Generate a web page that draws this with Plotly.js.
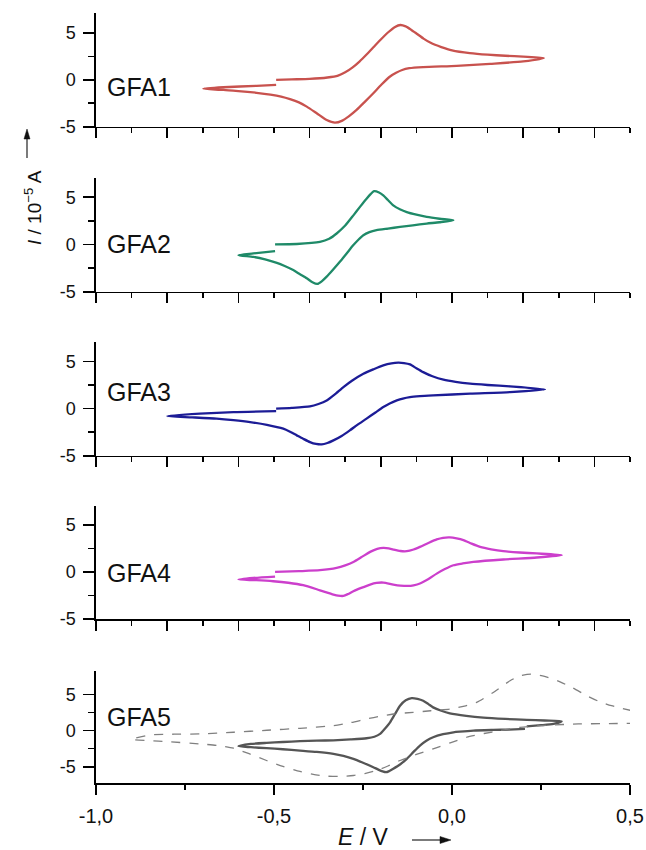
<!DOCTYPE html>
<html>
<head>
<meta charset="utf-8">
<script src="https://cdn.plot.ly/plotly-3.0.1.min.js"></script>
<style>html,body{margin:0;padding:0;background:#fff;}#plot{width:646px;height:850px;}</style>
</head>
<body>
<div id="plot"></div>
<script>
// ---- Data (E in V, I in 10^-5 A) ----
const labels = ["GFA1", "GFA2", "GFA3", "GFA4", "GFA5"];

const E1 = [-0.494,-0.45,-0.40,-0.35,-0.32,-0.30,-0.28,-0.26,-0.24,-0.22,-0.20,-0.18,-0.16,-0.145,-0.13,-0.115,-0.10,-0.08,-0.06,-0.03,0.0,0.05,0.10,0.15,0.20,0.258,0.20,0.107,0.013,-0.081,-0.12,-0.14,-0.157,-0.174,-0.198,-0.221,-0.245,-0.268,-0.29,-0.308,-0.329,-0.352,-0.380,-0.408,-0.43,-0.455,-0.48,-0.51,-0.549,-0.60,-0.642,-0.699,-0.642,-0.549,-0.494];
const I1 = [0,0.05,0.10,0.25,0.45,0.8,1.3,1.95,2.7,3.5,4.3,5.05,5.65,5.85,5.7,5.35,4.95,4.4,3.95,3.5,3.15,2.85,2.68,2.57,2.47,2.32,1.96,1.71,1.5,1.36,1.24,1.05,0.75,0.36,-0.5,-1.43,-2.35,-3.21,-3.9,-4.35,-4.57,-4.29,-3.57,-2.86,-2.4,-2.05,-1.78,-1.57,-1.38,-1.2,-1.07,-0.96,-0.79,-0.64,-0.54];

const E2 = [-0.497,-0.436,-0.371,-0.345,-0.324,-0.30,-0.277,-0.258,-0.240,-0.228,-0.219,-0.205,-0.193,-0.18,-0.165,-0.145,-0.127,-0.10,-0.071,-0.035,0.004,-0.035,-0.071,-0.11,-0.146,-0.18,-0.212,-0.232,-0.249,-0.263,-0.277,-0.296,-0.315,-0.335,-0.352,-0.366,-0.378,-0.392,-0.408,-0.427,-0.446,-0.47,-0.492,-0.525,-0.558,-0.600,-0.558,-0.497];
const I2 = [0,0.05,0.27,0.6,1.16,2.0,3.08,4.0,4.84,5.35,5.64,5.5,5.19,4.7,4.14,3.7,3.43,3.15,2.91,2.72,2.56,2.35,2.21,2.02,1.85,1.68,1.51,1.3,0.98,0.5,-0.07,-0.95,-1.83,-2.7,-3.41,-3.9,-4.18,-4.0,-3.58,-3.15,-2.71,-2.28,-1.95,-1.58,-1.32,-1.13,-0.95,-0.71];

const E3 = [-0.494,-0.45,-0.399,-0.375,-0.352,-0.33,-0.305,-0.28,-0.249,-0.22,-0.193,-0.17,-0.151,-0.135,-0.118,-0.10,-0.081,-0.055,-0.024,0.01,0.051,0.10,0.163,0.261,0.163,0.051,-0.053,-0.09,-0.118,-0.138,-0.155,-0.175,-0.193,-0.215,-0.240,-0.265,-0.287,-0.31,-0.333,-0.35,-0.366,-0.382,-0.399,-0.418,-0.436,-0.455,-0.474,-0.52,-0.567,-0.614,-0.661,-0.73,-0.800,-0.708,-0.614,-0.494];
const I3 = [0,0.08,0.24,0.5,0.88,1.5,2.30,3.0,3.72,4.2,4.61,4.82,4.89,4.85,4.71,4.3,3.89,3.45,3.08,2.85,2.66,2.52,2.37,2.05,1.77,1.60,1.41,1.33,1.23,1.08,0.88,0.55,0.17,-0.4,-1.06,-1.7,-2.31,-2.9,-3.37,-3.65,-3.80,-3.75,-3.55,-3.2,-2.84,-2.45,-2.13,-1.72,-1.43,-1.22,-1.06,-0.92,-0.79,-0.53,-0.36,-0.26];

const E4 = [-0.497,-0.43,-0.371,-0.324,-0.30,-0.277,-0.255,-0.230,-0.21,-0.193,-0.178,-0.165,-0.145,-0.127,-0.108,-0.090,-0.065,-0.043,-0.025,-0.006,0.013,0.032,0.055,0.079,0.11,0.144,0.19,0.238,0.308,0.238,0.144,0.060,0.03,0.004,-0.02,-0.043,-0.066,-0.090,-0.108,-0.123,-0.145,-0.165,-0.193,-0.212,-0.230,-0.255,-0.277,-0.292,-0.305,-0.320,-0.333,-0.371,-0.418,-0.46,-0.502,-0.55,-0.600,-0.558,-0.497];
const I4 = [0,0.08,0.18,0.43,0.7,1.06,1.55,2.13,2.45,2.55,2.5,2.38,2.22,2.20,2.38,2.66,3.1,3.45,3.62,3.66,3.56,3.38,3.0,2.66,2.4,2.20,2.06,1.96,1.78,1.53,1.32,1.06,0.9,0.71,0.3,-0.18,-0.75,-1.23,-1.42,-1.49,-1.45,-1.34,-1.13,-1.17,-1.34,-1.7,-2.05,-2.35,-2.55,-2.52,-2.40,-1.95,-1.41,-1.15,-0.99,-0.88,-0.81,-0.64,-0.49];

const E5 = [0.205,0.16,0.116,0.06,0.022,0.004,-0.025,-0.053,-0.072,-0.090,-0.108,-0.127,-0.146,-0.165,-0.178,-0.185,-0.195,-0.207,-0.221,-0.25,-0.277,-0.305,-0.333,-0.38,-0.427,-0.475,-0.521,-0.565,-0.600,-0.565,-0.521,-0.475,-0.427,-0.38,-0.333,-0.285,-0.240,-0.218,-0.202,-0.188,-0.174,-0.160,-0.146,-0.13,-0.113,-0.097,-0.081,-0.067,-0.053,-0.03,-0.006,0.04,0.088,0.15,0.210,0.26,0.308,0.285,0.250,0.210];
const I5 = [0.23,0.15,0.09,0.0,-0.14,-0.23,-0.5,-0.92,-1.4,-2.07,-2.95,-3.91,-4.7,-5.29,-5.65,-5.76,-5.65,-5.4,-5.07,-4.45,-3.91,-3.5,-3.22,-2.95,-2.76,-2.58,-2.44,-2.3,-2.17,-1.85,-1.70,-1.58,-1.47,-1.40,-1.34,-1.22,-1.06,-0.85,-0.46,0.3,1.15,2.3,3.45,4.2,4.51,4.4,4.14,3.7,3.22,2.75,2.40,2.05,1.80,1.62,1.50,1.4,1.30,0.92,0.75,0.60];

// dashed reference curve in bottom panel
const Ed = [0.505,0.448,0.41,0.379,0.34,0.297,0.26,0.222,0.191,0.163,0.116,0.069,0.035,-0.006,-0.06,-0.109,-0.165,-0.200,-0.240,-0.285,-0.333,-0.427,-0.52,-0.614,-0.708,-0.78,-0.848,-0.900,-0.85,-0.801,-0.708,-0.66,-0.614,-0.57,-0.521,-0.475,-0.427,-0.39,-0.352,-0.315,-0.277,-0.245,-0.212,-0.18,-0.146,-0.10,-0.053,-0.005,0.041,0.09,0.135,0.191,0.27,0.355,0.43,0.505];
const Id = [2.76,3.45,4.1,4.83,5.9,6.9,7.5,7.83,7.6,6.91,5.29,3.91,3.4,2.99,2.75,2.53,2.30,2.0,1.61,1.1,0.69,0.32,0.05,-0.23,-0.46,-0.5,-0.6,-1.2,-1.38,-1.52,-1.84,-2.05,-2.44,-3.2,-4.14,-4.95,-5.66,-6.05,-6.31,-6.35,-6.22,-5.95,-5.52,-4.9,-4.14,-3.3,-2.53,-1.7,-0.92,-0.4,0,0.46,0.75,0.92,0.97,1.0];

const xTickVals = [-1.0, -0.5, 0.0, 0.5];
const xTickText = ["-1,0", "-0,5", "0,0", "0,5"];
const yTickVals = [-5, 0, 5];
const yTickText = ["-5", "0", "5"];

const colors = ["#c8524e", "#1f8a68", "#1c1c96", "#cc3fcc", "#555555"];
const Es = [E1, E2, E3, E4, E5];
const Is = [I1, I2, I3, I4, I5];

// ---- Layout geometry ----
const W = 646, H = 850;
const panels = [[13.3, 126.7], [178.3, 291.7], [342.3, 455.7], [506, 619], [670.7, 783.3]];
const yRanges = [[-5, 7.1], [-5, 7], [-5, 7.06], [-5, 7], [-7.3, 8.3]];
const xDom = [96 / W, 630 / W];
const font = "Liberation Sans, Arial, sans-serif";
const px = v => v / W, py = v => 1 - v / H;

const traces = [];
for (let k = 0; k < 5; k++) {
  const sfx = k === 0 ? "" : String(k + 1);
  traces.push({
    x: Es[k], y: Is[k], type: "scatter", mode: "lines",
    xaxis: "x" + sfx, yaxis: "y" + sfx,
    line: { color: colors[k], width: 2.3, shape: "spline", smoothing: 0.6 },
    hoverinfo: "skip", showlegend: false
  });
}
traces.push({
  x: Ed, y: Id, type: "scatter", mode: "lines", xaxis: "x5", yaxis: "y5",
  line: { color: "#808080", width: 1.3, dash: "dash", shape: "spline", smoothing: 0.6 },
  hoverinfo: "skip", showlegend: false
});

const layout = {
  width: W, height: H,
  margin: { l: 0, r: 0, t: 0, b: 0 },
  paper_bgcolor: "#fff", plot_bgcolor: "rgba(0,0,0,0)",
  font: { family: font, size: 18, color: "#111" },
  showlegend: false,
  annotations: [],
  shapes: []
};

for (let k = 0; k < 5; k++) {
  const sfx = k === 0 ? "" : String(k + 1);
  const yd = [py(panels[k][1]), py(panels[k][0])];
  const last = k === 4;
  const xa = {
    domain: xDom, range: [-1.0, 0.5], anchor: "y" + sfx,
    showline: true, linecolor: "#000", linewidth: 1.6, mirror: false,
    showgrid: false, zeroline: false,
    ticks: "outside", ticklen: 10, tickwidth: 1.6, tickcolor: "#000",
    tickfont: { family: font, size: 20, color: "#111" }
  };
  if (last) {
    xa.tickmode = "array"; xa.tickvals = xTickVals; xa.ticktext = xTickText;
    xa.showticklabels = true; xa.ticklabelstandoff = 4;
    xa.minor = { tickmode: "array", tickvals: [-0.75, -0.25, 0.25], ticks: "outside", ticklen: 5, tickwidth: 1.6, tickcolor: "#000" };
  } else {
    xa.tickmode = "array"; xa.tickvals = [-1.0, -0.8, -0.6, -0.4, -0.2, 0.0, 0.2, 0.4];
    xa.showticklabels = false;
    xa.minor = { tickmode: "array", tickvals: [-0.9, -0.7, -0.5, -0.3, -0.1, 0.1, 0.3, 0.5], ticks: "outside", ticklen: 5, tickwidth: 1.6, tickcolor: "#000" };
  }
  const ya = {
    domain: yd, range: yRanges[k], anchor: "x" + sfx,
    showline: true, linecolor: "#000", linewidth: 1.6,
    showgrid: false, zeroline: false,
    ticks: "outside", ticklen: 11, tickwidth: 1.6, tickcolor: "#000",
    tickmode: "array", tickvals: yTickVals, ticktext: yTickText,
    tickfont: { family: font, size: 18, color: "#111" }, ticklabelstandoff: 4,
    minor: { tickmode: "array", tickvals: [-2.5, 2.5], ticks: "outside", ticklen: 6, tickwidth: 1.6, tickcolor: "#000" }
  };
  layout["xaxis" + sfx] = xa;
  layout["yaxis" + sfx] = ya;

  const labelY = [87, 244.3, 391.7, 572.7, 717.3][k];
  layout.annotations.push({
    text: labels[k], xref: "paper", yref: "paper",
    x: px(105), y: py(labelY), xanchor: "left", yanchor: "middle",
    showarrow: false, font: { family: font, size: 25, color: "#111" }
  });
}

// x title on bottom axis
layout.xaxis5.title = { text: "<i>E</i> / V", font: { family: font, size: 23, color: "#111" }, standoff: 6 };

// y title
layout.annotations.push({
  text: "<i>I</i> / 10<sup>\u22125</sup> A", xref: "paper", yref: "paper",
  x: px(33), y: py(208), xanchor: "center", yanchor: "middle", textangle: -90,
  showarrow: false, font: { family: font, size: 19, color: "#111" }
});

// arrows drawn as shapes (paper coords)
const ax0 = 27;
layout.shapes.push({ type: "line", xref: "paper", yref: "paper", x0: px(ax0), x1: px(ax0), y0: py(158), y1: py(138), line: { color: "#222", width: 1.2 } });
layout.shapes.push({ type: "path", xref: "paper", yref: "paper",
  path: `M ${px(ax0 - 3)} ${py(139)} L ${px(ax0 + 3)} ${py(139)} L ${px(ax0)} ${py(129)} Z`,
  fillcolor: "#111", line: { color: "#111", width: 0.5 } });
layout.shapes.push({ type: "line", xref: "paper", yref: "paper", x0: px(412), x1: px(441), y0: py(840), y1: py(840), line: { color: "#222", width: 1.2 } });
layout.shapes.push({ type: "path", xref: "paper", yref: "paper",
  path: `M ${px(440)} ${py(836.5)} L ${px(440)} ${py(843.5)} L ${px(451)} ${py(840)} Z`,
  fillcolor: "#111", line: { color: "#111", width: 0.5 } });

Plotly.newPlot("plot", traces, layout, { staticPlot: true, displayModeBar: false });
</script>
</body>
</html>
